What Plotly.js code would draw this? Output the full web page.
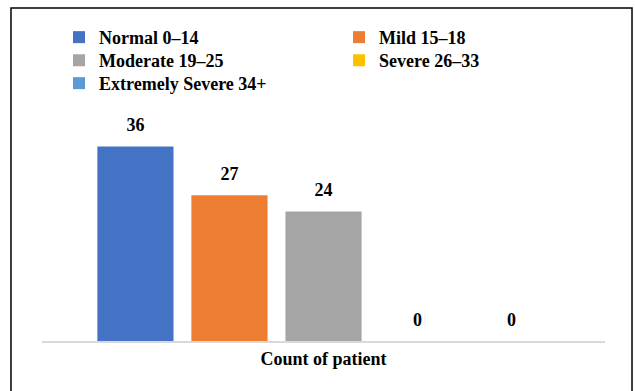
<!DOCTYPE html>
<html>
<head>
<meta charset="utf-8">
<script src="https://cdn.plot.ly/plotly-3.0.1.min.js"></script>
<style>html,body{margin:0;padding:0;background:#fff}</style>
</head>
<body>
<div id="chart" style="width:635px;height:391px"></div>
<script>
const category = ["Count of patient"];
const seriesNames = ["Normal 0–14", "Mild 15–18", "Moderate 19–25", "Severe 26–33", "Extremely Severe 34+"];
const seriesValues = [36, 27, 24, 0, 0];
const seriesColors = ["#4472C4", "#ED7D31", "#A5A5A5", "#FFC000", "#5B9BD5"];
const legendRows = ["legend", "legend", "legend2", "legend2", "legend3"];

const FONT = "Liberation Serif, Times New Roman, serif";

const traces = seriesNames.map((name, i) => ({
  type: "bar",
  name: name,
  legend: legendRows[i],
  x: category,
  y: [seriesValues[i]],
  marker: {color: seriesColors[i]},
  text: ["<span style='font-size:18px'>" + String(seriesValues[i]) + "</span><br> "],
  textposition: "outside",
  cliponaxis: false,
  textfont: {family: FONT, size: 8, color: "#000", weight: "bold"},
  hoverinfo: "skip"
}));

function legendRow(y) {
  return {
    orientation: "h",
    x: 0.0797, xanchor: "left",
    y: y, yanchor: "top",
    entrywidth: 235, entrywidthmode: "pixels",
    traceorder: "normal",
    tracegroupgap: 0,
    font: {family: FONT, size: 18, color: "#000", weight: "bold"},
    bgcolor: "rgba(0,0,0,0)"
  };
}

const layout = {
  width: 635, height: 391,
  margin: {l: 10, r: 10, t: 125, b: 50},
  paper_bgcolor: "#fff", plot_bgcolor: "#fff",
  barmode: "group",
  bargap: 0.165,
  bargroupgap: 0.19,
  font: {family: FONT, size: 18, color: "#000", weight: "bold"},
  showlegend: true,
  legend: legendRow(1.491),
  legend2: legendRow(1.384),
  legend3: legendRow(1.278),
  xaxis: {
    type: "category",
    domain: [0.052, 0.9675],
    showgrid: false,
    showline: true, linecolor: "#D9D9D9", linewidth: 1.5,
    ticks: "",
    tickfont: {family: FONT, size: 18, color: "#000", weight: "bold"},
    ticklabelstandoff: 1,
    fixedrange: true
  },
  yaxis: {
    range: [0, 40],
    visible: false,
    showgrid: false,
    zeroline: false,
    fixedrange: true
  },
  shapes: [{
    type: "rect", xref: "paper", yref: "paper",
    x0: 0.0016, x1: 1.0114, y0: -0.26, y1: 1.542,
    line: {color: "#000", width: 1.5}
  }]
};

Plotly.newPlot("chart", traces, layout, {displayModeBar: false, staticPlot: true});
</script>
</body>
</html>
